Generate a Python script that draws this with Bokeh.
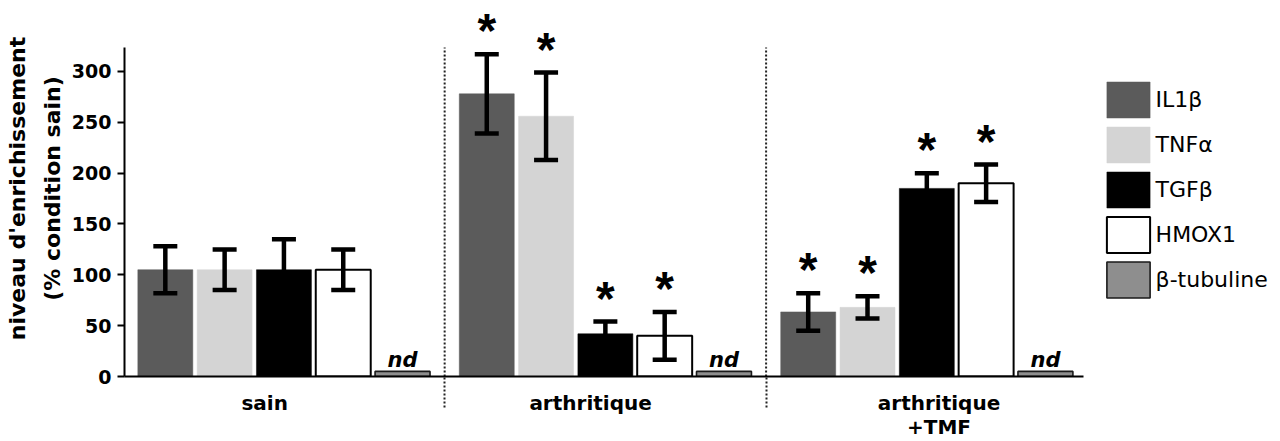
from bokeh.plotting import figure
from bokeh.models import (Range1d, FixedTicker, ColumnDataSource, Whisker, TeeHead,
                          Legend, LegendItem)
from bokeh.core.properties import value
from bokeh.embed import file_html
from bokeh.resources import INLINE

# ---------------- data ----------------
groups = ["sain", "arthritique", "arthritique\n+TMF"]
genes = ["IL1β", "TNFα", "TGFβ", "HMOX1", "β-tubuline"]

il1b = [105, 278, 63.5]
il1b_err = [23, 39, 18.5]
tnfa = [105, 256, 68]
tnfa_err = [20, 43, 11]
tgfb = [105, 42, 185]
tgfb_err = [30, 12, 15]
hmox1 = [105, 40, 190]
hmox1_err = [20, 23.5, 18.5]
btub = [5, 5, 5]

# significance (*) per gene and group, "nd" flag for β-tubuline
signif = {
    "IL1β": [False, True, True],
    "TNFα": [False, True, True],
    "TGFβ": [False, True, True],
    "HMOX1": [False, True, True],
}
nd_flags = [True, True, True]

y_ticks = [0, 50, 100, 150, 200, 250, 300]

# ---------------- styles ----------------
means = [il1b, tnfa, tgfb, hmox1, btub]
errs = [il1b_err, tnfa_err, tgfb_err, hmox1_err, None]
fills = ["#5b5b5b", "#d4d4d4", "#000000", "#ffffff", "#8e8e8e"]
lines = [None, None, None, "#000000", "#1a1a1a"]
line_ws = [0, 0, 0, 2, 1.6]

FONT = "DejaVu Sans"
pitch = 0.1845
bar_w = 0.171
label_shift = [-0.060, -0.046, 0.038]
y_axis_top = 323.6

p = figure(width=1280, height=441, output_backend="svg", toolbar_location=None,
           x_range=Range1d(-0.496, 3.1003), y_range=Range1d(0, 369.8),
           min_border_left=124, min_border_right=0, min_border_top=0,
           min_border_bottom=65)
p.outline_line_color = None
p.xgrid.visible = False
p.ygrid.visible = False
p.background_fill_color = "white"

group_x = list(range(len(groups)))

renderers = []
for j, g in enumerate(genes):
    xs = [gx + (j - 2) * pitch for gx in group_x]
    src = ColumnDataSource(dict(x=xs, top=means[j]))
    r = p.vbar(x="x", top="top", width=bar_w, source=src,
               fill_color=fills[j],
               line_color=lines[j] if lines[j] else fills[j],
               line_width=line_ws[j] if line_ws[j] else 0.5)
    renderers.append(r)
    if errs[j] is not None:
        up = [m + e for m, e in zip(means[j], errs[j])]
        lo = [m - e for m, e in zip(means[j], errs[j])]
        wsrc = ColumnDataSource(dict(x=xs, upper=up, lower=lo))
        w = Whisker(base="x", upper="upper", lower="lower", source=wsrc,
                    dimension="height", line_width=4.5, line_color="black",
                    upper_head=TeeHead(size=24, line_width=4.5, line_color="black"),
                    lower_head=TeeHead(size=24, line_width=4.5, line_color="black"),
                    level="overlay")
        p.add_layout(w)
        sx = [x for x, s in zip(xs, signif[g]) if s]
        sy = [u for u, s in zip(up, signif[g]) if s]
        p.text(x=sx, y=[v + 23 for v in sy], text=["*"] * len(sx),
               text_font=value("Liberation Sans"), text_font_style="bold",
               text_font_size="48px", text_align="center",
               text_baseline="alphabetic", text_color="black")
    else:
        nx = [x for x, f in zip(xs, nd_flags) if f]
        ny = [m for m, f in zip(means[j], nd_flags) if f]
        p.text(x=nx, y=[v + 11 for v in ny], text=["nd"] * len(nx),
               text_font=value(FONT), text_font_style="bold italic",
               text_font_size="21px", text_align="center",
               text_baseline="alphabetic", text_color="black")

# dotted group dividers
dividers = [0.5, 1.5]
p.segment(x0=dividers, x1=dividers, y0=[0] * 2, y1=[y_axis_top] * 2,
          line_color="#222222", line_width=2, line_dash="2 2")

# ---------------- axes ----------------
xa = p.xaxis[0]
label_pos = [gx + s for gx, s in zip(group_x, label_shift)]
xa.ticker = FixedTicker(ticks=label_pos, minor_ticks=dividers)
xa.major_label_overrides = {lp: g for lp, g in zip(label_pos, groups)}
xa.bounds = (-0.496, 2.4875)
xa.axis_line_width = 2
xa.axis_line_color = "black"
xa.major_tick_out = 0
xa.major_tick_in = 0
xa.minor_tick_in = 0
xa.minor_tick_out = 31
xa.minor_tick_line_width = 2
xa.minor_tick_line_dash = "2 2"
xa.minor_tick_line_color = "#222222"
xa.major_label_text_font = FONT
xa.major_label_text_font_style = "bold"
xa.major_label_text_font_size = "20px"
xa.major_label_text_color = "black"
xa.major_label_text_line_height = 1.0
xa.major_label_standoff = -17

ya = p.yaxis[0]
ya.ticker = FixedTicker(ticks=y_ticks, minor_ticks=[])
ya.bounds = (0, y_axis_top)
ya.axis_line_width = 2
ya.axis_line_color = "black"
ya.major_tick_out = 7
ya.major_tick_in = 0
ya.major_tick_line_width = 2
ya.major_tick_line_color = "black"
ya.minor_tick_out = 0
ya.minor_tick_in = 0
ya.major_label_text_font = FONT
ya.major_label_text_font_style = "bold"
ya.major_label_text_font_size = "19px"
ya.major_label_text_color = "black"
ya.major_label_standoff = 6
ya.axis_label = "niveau d'enrichissement\n(% condition sain)"
ya.axis_label_text_font = FONT
ya.axis_label_text_font_style = "bold"
ya.axis_label_text_font_size = "22px"
ya.axis_label_text_color = "black"
ya.axis_label_text_line_height = 1.4
ya.axis_label_standoff = 4

# ---------------- legend ----------------
legend = Legend(items=[LegendItem(label=g, renderers=[r]) for g, r in zip(genes, renderers)],
                location=(976.6, 74.5), glyph_width=54, glyph_height=45, spacing=0,
                padding=0, margin=0, label_standoff=1,
                label_text_font=FONT, label_text_font_size="22px",
                label_text_color="black", border_line_color=None,
                background_fill_alpha=0)
p.add_layout(legend)

open("out.html", "w").write(file_html(p, INLINE))
